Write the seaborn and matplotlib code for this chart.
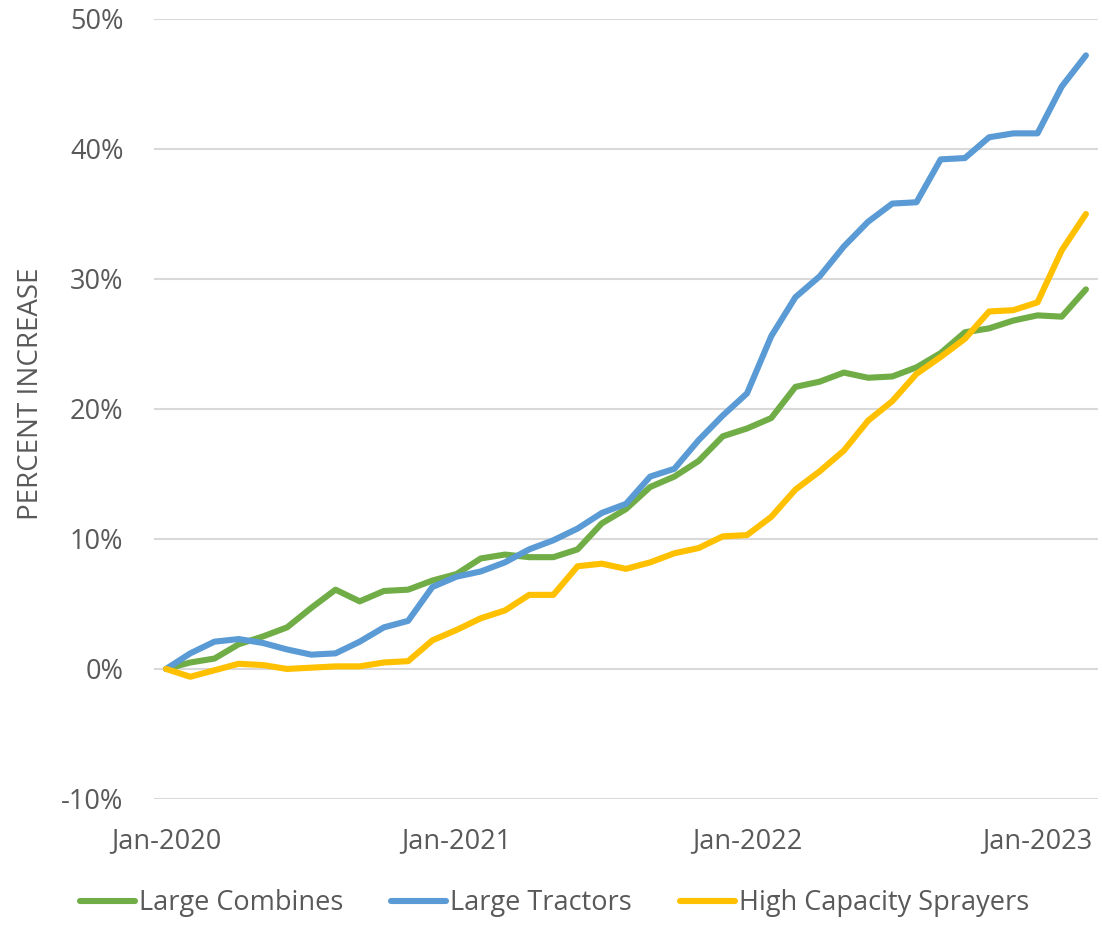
import numpy as np
import pandas as pd
import matplotlib
matplotlib.use("Agg")
import matplotlib.pyplot as plt
import seaborn as sns
from matplotlib.ticker import FuncFormatter

# monthly values, Jan-2020 .. Mar-2023 (percent increase since Jan-2020)
months = pd.date_range("2020-01-01", periods=39, freq="MS").strftime("%b-%Y").tolist()

combines = [0, 0.5, 0.8, 1.9, 2.5, 3.2, 4.7, 6.1, 5.2, 6.0, 6.1, 6.8, 7.3,
            8.5, 8.8, 8.6, 8.6, 9.2, 11.2, 12.3, 14.0, 14.8, 16.0, 17.9, 18.5,
            19.3, 21.7, 22.1, 22.8, 22.4, 22.5, 23.2, 24.3, 25.9, 26.2, 26.8,
            27.2, 27.1, 29.2]
tractors = [0, 1.2, 2.1, 2.3, 2.0, 1.5, 1.1, 1.2, 2.1, 3.2, 3.7, 6.3, 7.1,
            7.5, 8.2, 9.2, 9.9, 10.8, 12.0, 12.7, 14.8, 15.4, 17.6, 19.5, 21.2,
            25.6, 28.6, 30.2, 32.5, 34.4, 35.8, 35.9, 39.2, 39.3, 40.9, 41.2,
            41.2, 44.8, 47.2]
sprayers = [0, -0.6, -0.1, 0.4, 0.3, 0.0, 0.1, 0.2, 0.2, 0.5, 0.6, 2.2, 3.0,
            3.9, 4.5, 5.7, 5.7, 7.9, 8.1, 7.7, 8.2, 8.9, 9.3, 10.2, 10.3,
            11.7, 13.8, 15.2, 16.8, 19.1, 20.6, 22.7, 24.0, 25.4, 27.5, 27.6,
            28.2, 32.2, 35.0]

series_names = ["Large Combines", "Large Tractors", "High Capacity Sprayers"]
colors = ["#70AD47", "#5B9BD5", "#FFC000"]

df = pd.DataFrame({
    "month_idx": list(range(len(months))) * 3,
    "value": combines + tractors + sprayers,
    "series": np.repeat(series_names, len(months)),
})

sns.set_style("white")
plt.rcParams["font.family"] = ["Open Sans", "DejaVu Sans"]
plt.rcParams["lines.solid_capstyle"] = "round"
plt.rcParams["lines.solid_joinstyle"] = "round"
text_col = "#595959"

fig = plt.figure(figsize=(11.02, 9.30), dpi=100)
ax = fig.add_axes([0.1397, 0.1409, 0.8567, 0.8387])

sns.lineplot(data=df, x="month_idx", y="value", hue="series",
             hue_order=series_names, palette=colors, linewidth=4.4,
             ax=ax, legend=True)

ax.set_xlim(-0.5, len(months) - 0.5)
ax.set_ylim(-10, 50)
ax.set_yticks(range(-10, 51, 10))
ax.yaxis.set_major_formatter(FuncFormatter(lambda v, p: f"{v:.0f}%"))
tick_pos = list(range(0, len(months), 12))
ax.set_xticks(tick_pos)
ax.set_xticklabels([months[i] for i in tick_pos])

ax.grid(axis="y", color="#D9D9D9", linewidth=1.5)
ax.grid(axis="x", visible=False)
for s in ax.spines.values():
    s.set_visible(False)
ax.tick_params(axis="both", length=0, labelsize=19.5, colors=text_col)
ax.tick_params(axis="y", pad=22)
ax.tick_params(axis="x", pad=20)

ax.set_xlabel("")
ax.set_ylabel("PERCENT INCREASE", fontsize=20, color=text_col)
ax.yaxis.set_label_coords(-0.115, 0.52)

handles, labels = ax.get_legend_handles_labels()
ax.get_legend().remove()
fig.legend(handles, labels, loc="center", bbox_to_anchor=(0.503, 0.029),
           ncol=3, frameon=False, fontsize=19.5, handlelength=2.03,
           handletextpad=0.15, columnspacing=1.77, labelcolor=text_col)

fig.savefig("out.png", dpi=100)
